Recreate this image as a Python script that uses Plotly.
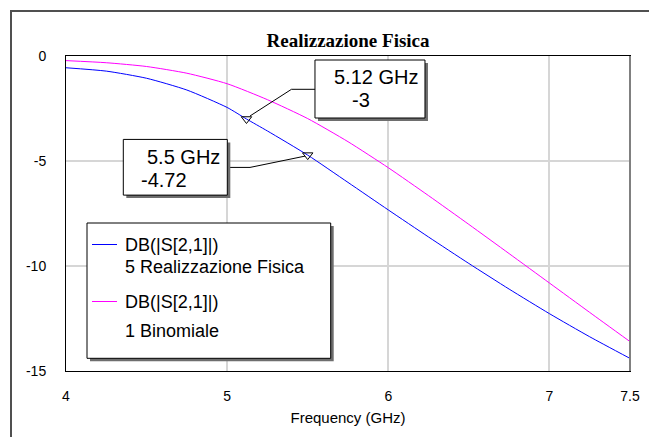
import plotly.graph_objects as go

# ---------------- data ----------------
blue_freq = [4.0, 4.25, 4.5, 4.75, 5.0, 5.12, 5.25, 5.5, 5.75, 6.0, 6.25, 6.5, 6.75, 7.0, 7.25, 7.5]
blue_db = [-0.56, -0.72, -1.06, -1.62, -2.45, -3.0, -3.57, -4.72, -6.02, -7.33, -8.62, -9.88, -11.1, -12.27, -13.37, -14.4]

mag_freq = [4.0, 4.25, 4.5, 4.75, 5.0, 5.25, 5.5, 5.75, 6.0, 6.25, 6.5, 6.75, 7.0, 7.25, 7.5]
mag_db = [-0.22, -0.32, -0.50, -0.82, -1.32, -2.08, -2.98, -4.08, -5.32, -6.65, -8.02, -9.41, -10.81, -12.21, -13.6]

marker_freq = [5.12, 5.5]
marker_db = [-3.0, -4.72]
marker_freq_text = ["5.12 GHz", "5.5 GHz"]
marker_db_text = ["-3", "-4.72"]

x_ticks = [4, 5, 6, 7, 7.5]
x_ticktext = ["4", "5", "6", "7", "7.5"]
y_ticks = [0, -5, -10, -15]
y_ticktext = ["0", "-5", "-10", "-15"]

series_names = ["DB(|S[2,1]|)<br>5 Realizzazione Fisica", "DB(|S[2,1]|)<br>1 Binomiale"]
legend_lines = [["DB(|S[2,1]|)", "5 Realizzazione Fisica"], ["DB(|S[2,1]|)", "1 Binomiale"]]

BLUE = "#0000ff"
MAGENTA = "#ff00ff"
SANS = "Liberation Sans, Arial, sans-serif"
SERIF = "Liberation Serif, Times New Roman, serif"

fig = go.Figure()
fig.add_trace(go.Scatter(x=blue_freq, y=blue_db, mode="lines", name=series_names[0],
                         line=dict(color=BLUE, width=1, shape="spline", smoothing=0.6),
                         showlegend=False))
fig.add_trace(go.Scatter(x=mag_freq, y=mag_db, mode="lines", name=series_names[1],
                         line=dict(color=MAGENTA, width=1, shape="spline", smoothing=0.6),
                         showlegend=False))
fig.add_trace(go.Scatter(x=marker_freq, y=marker_db, mode="markers",
                         marker=dict(symbol="triangle-down-open", size=9,
                                     color="black", line=dict(width=1, color="black")),
                         showlegend=False, hoverinfo="x+y"))

OFF = 8  # page body margin
PAGE_W, PAGE_H = 657, 437
W, H = PAGE_W - OFF, PAGE_H - OFF
# plot area in page pixels: x 66..630, y 56..371
L, T = 66 - OFF, 56 - OFF
R = W - (630 - OFF)
B = H - (371 - OFF)
pw, ph = W - L - R, H - T - B

def px(xp):  # page pixel -> paper x
    return (xp - OFF - L) / pw

def py(yp):  # page pixel -> paper y
    return (H - B - (yp - OFF)) / ph

shapes = []
annotations = []

# outer frame (extends past the right/bottom of the picture)
shapes.append(dict(type="rect", xref="paper", yref="paper",
                   x0=px(11), x1=px(680), y0=py(460), y1=py(11),
                   line=dict(color="#505050", width=2), layer="below"))
# right edge of plot in gray
shapes.append(dict(type="line", xref="paper", yref="paper", x0=1, x1=1, y0=0, y1=1,
                   line=dict(color="#808080", width=2)))

# marker callouts: offsets in pixels relative to the marker (y up)
callouts = [
    dict(path="M 3.5 3 L 45 29.7 L 68.5 29.7", box=(68.5, 178.5, 1, 59),
         t1=(129.5, 42), t2=(114.5, 19)),
    dict(path="M -2.7 -1 L -57.7 -12.3 L -80.4 -12.3", box=(-184.4, -80.4, -40, 15.7),
         t1=(-123.9, -1.5), t2=(-143.9, -25.3)),
]
for i, c in enumerate(callouts):
    common = dict(xref="x", yref="y", xsizemode="pixel", ysizemode="pixel",
                  xanchor=marker_freq[i], yanchor=marker_db[i])
    shapes.append(dict(type="path", path=c["path"], line=dict(color="black", width=1), **common))
    bx0, bx1, by0, by1 = c["box"]
    shapes.append(dict(type="rect", x0=bx0 + 3, x1=bx1 + 3, y0=by0 - 3, y1=by1 - 3,
                       fillcolor="#6e6e6e", line=dict(width=0), **common))
    shapes.append(dict(type="rect", x0=bx0, x1=bx1, y0=by0, y1=by1,
                       fillcolor="white", line=dict(color="black", width=1), **common))
    for txt, (dx, dy) in ((marker_freq_text[i], c["t1"]), (marker_db_text[i], c["t2"])):
        annotations.append(dict(xref="x", yref="y", x=marker_freq[i], y=marker_db[i],
                                xshift=dx, yshift=dy, text=txt,
                                showarrow=False, xanchor="center", yanchor="middle",
                                font=dict(family=SANS, size=20, color="black")))

# legend box
lx0, lx1, ly0, ly1 = 87, 330.7, 223, 358.3
shapes.append(dict(type="rect", xref="paper", yref="paper",
                   x0=px(lx0 + 3), x1=px(lx1 + 3), y0=py(ly1 + 3), y1=py(ly0 + 3),
                   fillcolor="#6e6e6e", line=dict(width=0)))
shapes.append(dict(type="rect", xref="paper", yref="paper",
                   x0=px(lx0), x1=px(lx1), y0=py(ly1), y1=py(ly0),
                   fillcolor="white", line=dict(color="black", width=1)))
legend_colors = [BLUE, MAGENTA]
legend_rows = [(244.5, 267.3), (301.5, 330.5)]
for i in range(2):
    r1, r2 = legend_rows[i]
    shapes.append(dict(type="line", xref="paper", yref="paper",
                       x0=px(92), x1=px(117), y0=py(r1), y1=py(r1),
                       line=dict(color=legend_colors[i], width=1)))
    for txt, yy in zip(legend_lines[i], (r1, r2)):
        annotations.append(dict(xref="paper", yref="paper", x=px(123), y=py(yy),
                                text=txt, showarrow=False, xanchor="left", yanchor="middle",
                                font=dict(family=SANS, size=18, color="black")))

fig.update_layout(
    width=W, height=H,
    margin=dict(l=L, r=R, t=T, b=B, autoexpand=False),
    paper_bgcolor="white", plot_bgcolor="white",
    title=dict(text="<b>Realizzazione Fisica</b>", x=0.5, xref="paper", xanchor="center",
               y=1 - (40 - OFF) / H, yref="container", yanchor="middle",
               font=dict(family=SERIF, size=19, color="black")),
    xaxis=dict(range=[4, 7.5], tickvals=x_ticks, ticktext=x_ticktext,
               showgrid=True, gridcolor="#d6d6d6", gridwidth=2,
               showline=True, linecolor="black", linewidth=1, mirror=True,
               ticks="", ticklabelstandoff=12, zeroline=False,
               tickfont=dict(family=SANS, size=14, color="black"),
               title=dict(text="Frequency (GHz)", standoff=9,
                          font=dict(family=SANS, size=15, color="black"))),
    yaxis=dict(range=[-15, 0], tickvals=y_ticks, ticktext=y_ticktext,
               showgrid=True, gridcolor="#d6d6d6", gridwidth=2,
               showline=True, linecolor="black", linewidth=1, mirror=True,
               ticks="", ticklabelstandoff=16, zeroline=False,
               tickfont=dict(family=SANS, size=14, color="black")),
    shapes=shapes,
    annotations=annotations,
    showlegend=False,
)

fig.write_html("out.html")
